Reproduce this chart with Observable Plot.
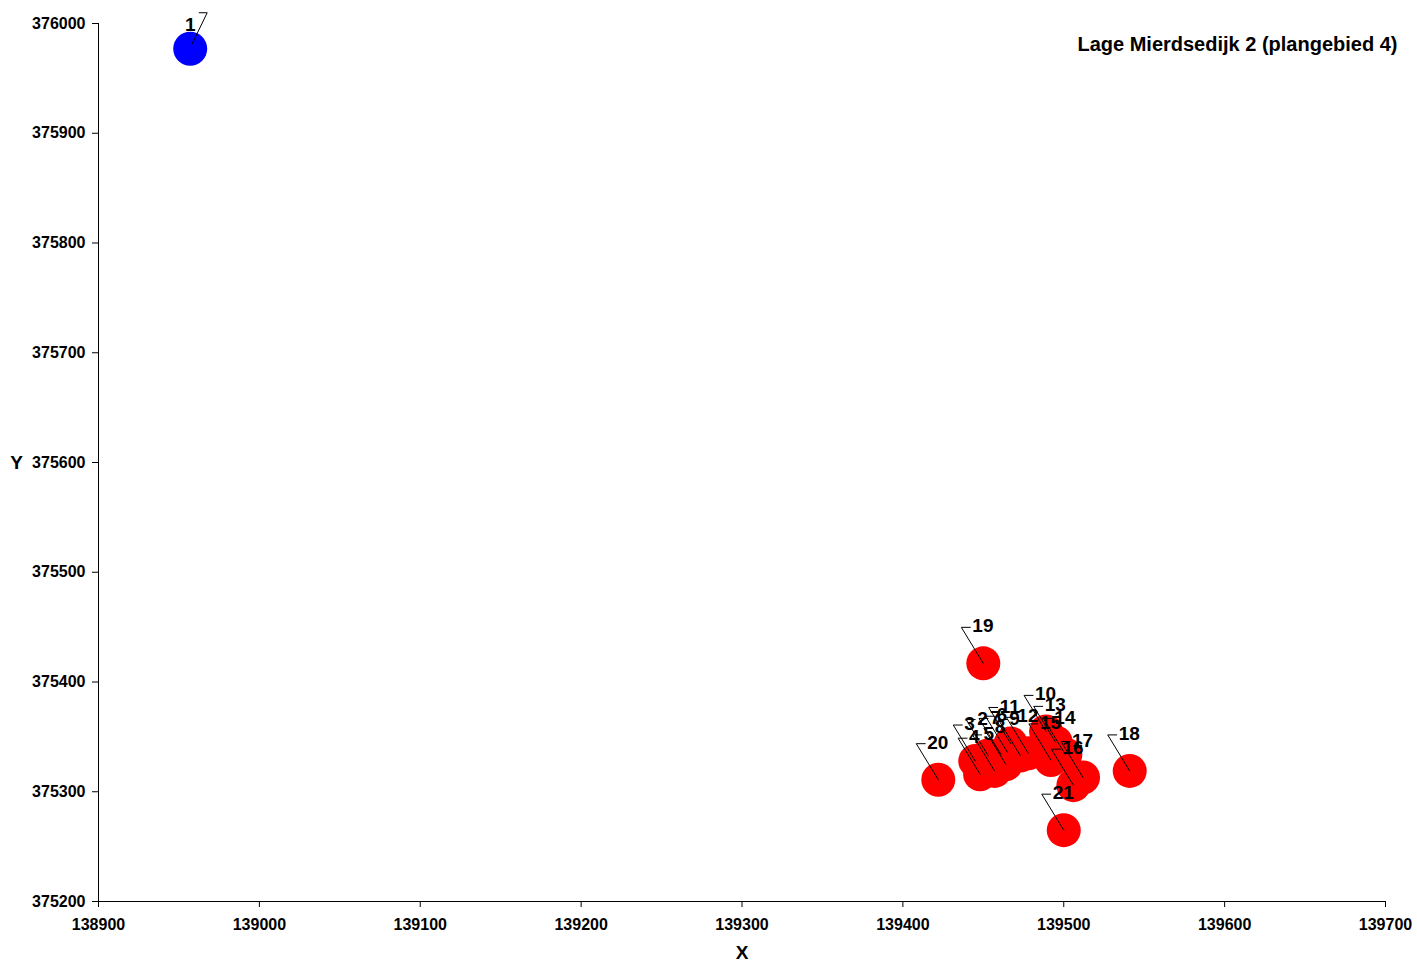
<!DOCTYPE html>
<html>
<head>
<meta charset="utf-8">
<script src="https://cdn.jsdelivr.net/npm/d3@7"></script>
<script src="https://cdn.jsdelivr.net/npm/@observablehq/plot@0.6"></script>
<style>
  html, body { margin: 0; padding: 0; background: #fff; }
  #chart { width: 1417px; height: 963px; }
</style>
</head>
<body>
<div id="chart"></div>
<script>
// ---- data ----
const title = "Lage Mierdsedijk 2 (plangebied 4)";
const ids = [1, 2, 3, 4, 5, 6, 7, 8, 9, 10, 11, 12, 13, 14, 15, 16, 17, 18, 19, 20, 21];
const xs = [138957, 139453, 139445, 139448, 139457, 139465, 139461, 139464, 139473, 139489,
            139467, 139478, 139495, 139501, 139492, 139506, 139512, 139541, 139450, 139422, 139500];
const ys = [375977, 375333, 375328, 375316, 375319, 375336, 375334, 375325, 375333, 375355,
            375344, 375335, 375345, 375334, 375329, 375306, 375313, 375319, 375417, 375311, 375265];
const groups = ["bron", "ontvanger", "ontvanger", "ontvanger", "ontvanger", "ontvanger", "ontvanger",
                "ontvanger", "ontvanger", "ontvanger", "ontvanger", "ontvanger", "ontvanger", "ontvanger",
                "ontvanger", "ontvanger", "ontvanger", "ontvanger", "ontvanger", "ontvanger", "ontvanger"];
const xTicks = [138900, 139000, 139100, 139200, 139300, 139400, 139500, 139600, 139700];
const yTicks = [375200, 375300, 375400, 375500, 375600, 375700, 375800, 375900, 376000];

const points = ids.map((id, i) => ({id, x: xs[i], y: ys[i], group: groups[i]}));
const sources = points.filter(d => d.group === "bron");
const receivers = points.filter(d => d.group !== "bron");

// leader line shapes (pixel geometry, drawn by Plot.vector)
const leaderLeft = {draw(ctx) { ctx.moveTo(0, 0); ctx.lineTo(-22, -36); ctx.lineTo(-13, -36); }};
const leaderRight = {draw(ctx) { ctx.moveTo(2, -5); ctx.lineTo(17, -36); ctx.lineTo(9, -36); }};

const plot = Plot.plot({
  width: 1417,
  height: 963,
  marginLeft: 98,
  marginRight: 32,
  marginTop: 23,
  marginBottom: 62,
  style: {fontFamily: "'Liberation Sans', Arial, sans-serif", fontWeight: "bold", fontSize: "16px", color: "#000", background: "#fff"},
  x: {domain: [xTicks[0], xTicks[xTicks.length - 1]]},
  y: {domain: [yTicks[0], yTicks[yTicks.length - 1]]},
  color: {domain: ["bron", "ontvanger"], range: ["#0000FF", "#FF0000"]},
  marks: [
    Plot.axisX({ticks: xTicks, tickFormat: d3.format("d"), tickSize: 6, tickPadding: 11, label: null, fontSize: 16}),
    Plot.axisY({ticks: yTicks, tickFormat: d3.format("d"), tickSize: 6, tickPadding: 7, label: null, fontSize: 16}),
    Plot.ruleX([xTicks[0]], {stroke: "#000"}),
    Plot.ruleY([yTicks[0]], {stroke: "#000"}),
    Plot.dot(points, {x: "x", y: "y", r: 17, fill: "group", stroke: null}),
    Plot.vector(receivers, {x: "x", y: "y", length: 36, rotate: 0, anchor: "start", shape: leaderLeft, stroke: "#000", strokeWidth: 1}),
    Plot.vector(sources, {x: "x", y: "y", length: 36, rotate: 0, anchor: "start", shape: leaderRight, stroke: "#000", strokeWidth: 1}),
    Plot.text(receivers, {x: "x", y: "y", text: "id", dy: -37, fontSize: 19, fontWeight: "bold", textAnchor: "start", dx: -11, lineAnchor: "middle", fill: "#000"}),
    Plot.text(sources, {x: "x", y: "y", text: "id", dy: -24, fontSize: 19, fontWeight: "bold", textAnchor: "middle", lineAnchor: "middle", fill: "#000"}),
    Plot.text([title], {frameAnchor: "top-right", textAnchor: "end", lineAnchor: "middle", dx: 12, dy: 21, fontSize: 20, fontWeight: "bold", fill: "#000"}),
    Plot.text(["X"], {frameAnchor: "bottom", textAnchor: "middle", lineAnchor: "middle", dy: 51, fontSize: 19, fontWeight: "bold", fill: "#000"}),
    Plot.text(["Y"], {frameAnchor: "left", textAnchor: "middle", lineAnchor: "middle", dx: -82, fontSize: 19, fontWeight: "bold", fill: "#000"})
  ]
});
document.getElementById("chart").appendChild(plot);
</script>
</body>
</html>
